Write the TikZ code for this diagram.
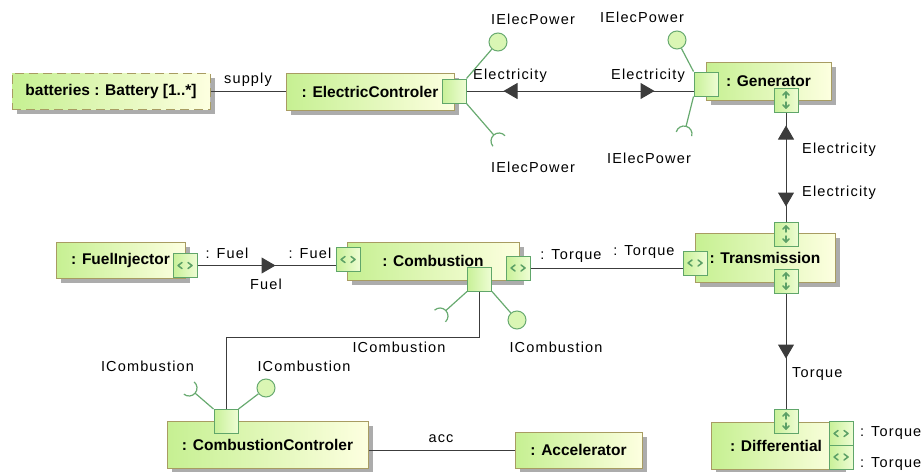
\documentclass[tikz,border=0pt]{standalone}
\usepackage{fontspec}
\setmainfont{Liberation Sans}
\newfontfamily\lblfont[LetterSpace=8]{Liberation Sans}
\usetikzlibrary{arrows.meta,positioning,calc,shadows,decorations.markings}

\definecolor{partL}{RGB}{198,240,146}
\definecolor{partR}{RGB}{253,255,224}
\definecolor{partEdge}{RGB}{168,156,98}
\definecolor{partShadow}{RGB}{172,172,172}
\definecolor{portL}{RGB}{200,241,152}
\definecolor{portR}{RGB}{238,253,212}
\definecolor{portEdge}{RGB}{96,166,106}
\definecolor{portMark}{RGB}{92,160,102}
\definecolor{ifaceGreen}{RGB}{104,170,112}
\definecolor{ballFill}{RGB}{218,246,180}
\definecolor{wireGray}{RGB}{60,60,60}

\tikzset{flowtip/.tip={Triangle[length=14pt, width=16pt]}}

\begin{document}
\begin{tikzpicture}[
    x=1pt, y=1pt,
    part/.style={
        rectangle, draw=partEdge, line width=1pt,
        left color=partL, right color=partR,
        general shadow={fill=partShadow, shadow xshift=5pt, shadow yshift=-5pt},
        align=center, inner sep=2pt,
        font=\fontsize{15.5}{18}\selectfont\bfseries
    },
    port/.style={
        rectangle, draw=portEdge, line width=1pt,
        left color=portL, right color=portR,
        minimum size=24pt, inner sep=0pt
    },
    portmark/.style={draw=portMark, line width=1.5pt, line cap=round, line join=round},
    hport/.style={port, path picture={
        \draw[portmark] ([shift={(-3,3)}]path picture bounding box.center) -- ++(-4,-3) -- ++(4,-3);
        \draw[portmark] ([shift={(3,3)}]path picture bounding box.center) -- ++(4,-3) -- ++(-4,-3);
    }},
    vport/.style={port, path picture={
        \draw[portmark] ([shift={(-3,5)}]path picture bounding box.center) -- ++(3,3) -- ++(3,-3);
        \draw[portmark] ([shift={(0,8)}]path picture bounding box.center) -- ++(0,-6);
        \draw[portmark] ([shift={(-3,-5)}]path picture bounding box.center) -- ++(3,-3) -- ++(3,3);
        \draw[portmark] ([shift={(0,-8)}]path picture bounding box.center) -- ++(0,6);
    }},
    wire/.style={draw=wireGray, line width=1pt},
    fwd/.style={postaction={decorate, decoration={markings,
        mark=at position #1 with {\arrow{flowtip}}}}},
    bwd/.style={postaction={decorate, decoration={markings,
        mark=at position #1 with {\arrowreversed{flowtip}}}}},
    iface/.style={draw=ifaceGreen, line width=1.2pt},
    ball/.style={
        circle, draw=ifaceGreen, line width=1pt, fill=ballFill,
        minimum size=18pt, inner sep=0pt
    },
    lbl/.style={font=\lblfont\fontsize{14.5}{17}\selectfont, anchor=base, inner sep=0pt},
]

\useasboundingbox (0,0) rectangle (923,-471);

% ── Parts ──
\node[part, dash pattern=on 9pt off 5pt, minimum width=198pt, minimum height=36pt]
    (bat) at (111,-91) {batteries : Battery [1..*]};
\node[part, minimum width=168pt, minimum height=37pt] (ectl) at (370,-91.5) {: ElectricControler};
\node[part, minimum width=125pt, minimum height=38pt] (gen) at (768.5,-81) {: Generator};
\node[part, minimum width=140pt, minimum height=49pt] (trans) at (765,-257.5) {: Transmission};
\node[part, minimum width=129pt, minimum height=36pt] (finj) at (120.5,-260) {: FuelInjector};
\node[part, minimum width=172pt, minimum height=38pt] (comb) at (433,-261) {: Combustion};
\node[part, minimum width=201pt, minimum height=47pt] (cctl) at (267.5,-444.5) {: CombustionControler};
\node[part, minimum width=127pt, minimum height=36pt] (accel) at (578.5,-450) {: Accelerator};
\node[part, minimum width=130pt, minimum height=47pt] (diff) at (776,-445.5) {: Differential};

% ── Ports ──
\node[port] (ecP) at (454,-91) {};
\node[port] (genP) at (706,-84) {};
\node[vport] (genB) at (786,-100) {};
\node[vport] (transT) at (786,-234) {};
\node[hport] (transL) at (695,-263) {};
\node[vport] (transB) at (786,-281) {};
\node[hport] (finjR) at (185,-265.5) {};
\node[hport] (combL) at (348,-259.5) {};
\node[hport] (combR) at (518,-268) {};
\node[port] (combB) at (479.5,-279) {};
\node[port] (cctlT) at (226,-421.5) {};
\node[vport] (diffT) at (786,-421) {};
\node[hport] (diffR1) at (841,-433.5) {};
\node[hport] (diffR2) at (841,-457) {};

% ── Connectors ──
\draw[wire] (bat.east) -- (bat.east -| ectl.west);
\node[lbl] (supplyLbl) at (248,-83) {supply};

\draw[wire, bwd=37pt, fwd=-39pt] (ecP.east) -- (ecP.east -| genP.west);
\node[lbl] (elecL) at (510,-79) {Electricity};
\node[lbl] (elecR) at (648,-79) {Electricity};

\draw[wire, bwd=13pt, fwd=-15pt] (genB.south) -- (transT.north);
\node[lbl, anchor=base west] (elecUp) at (802,-153) {Electricity};
\node[lbl, anchor=base west] (elecDn) at (802,-196) {Electricity};

\draw[wire, fwd=78pt] (finjR.east) -- (finjR.east -| combL.west);
\node[lbl] (fuelL) at (227,-258) {: Fuel};
\node[lbl] (fuelR) at (310,-258) {: Fuel};
\node[lbl] (fuelMid) at (266,-289) {Fuel};

\draw[wire] (combR.east) -- (combR.east -| transL.west);
\node[lbl] (torqL) at (571,-259) {: Torque};
\node[lbl] (torqR) at (644,-255) {: Torque};

\draw[wire, fwd=-50pt] (transB.south) -- (diffT.north);
\node[lbl, anchor=base west] (torqDn) at (792,-377) {Torque};
\node[lbl, anchor=base west] (diffLbl1) at (860,-436) {: Torque};
\node[lbl, anchor=base west] (diffLbl2) at (860,-467) {: Torque};

\draw[wire] (combB.south) -- ++(0,-46) -| (cctlT.north);

\draw[wire] (accel.west -| cctl.east) -- (accel.west);
\node[lbl] (accLbl) at (441,-442) {acc};

% ── Interfaces ──
\node[ball] (ecBall) at (498,-42) {};
\draw[iface] (ecP.north east) -- (ecBall);
\coordinate (ecSock) at (499,-141);
\draw[iface] (ecP.south east) -- ($(ecSock)+(131:8)$);
\draw[iface] ($(ecSock)+(41:8)$) arc[start angle=41, delta angle=180, radius=8];
\node[lbl] (ecTopLbl) at (533,-24) {IElecPower};
\node[lbl] (ecBotLbl) at (533,-172) {IElecPower};

\node[ball] (genBall) at (677,-40) {};
\draw[iface] (genP.north west) -- (genBall);
\coordinate (genSock) at (684,-134);
\draw[iface] (genP.south west) -- ($(genSock)+(75:8)$);
\draw[iface] ($(genSock)+(-15:8)$) arc[start angle=-15, delta angle=180, radius=8];
\node[lbl] (genTopLbl) at (642,-23) {IElecPower};
\node[lbl] (genBotLbl) at (649,-163) {IElecPower};

\node[ball] (combBall) at (517,-320) {};
\draw[iface] (combB.south east) -- (combBall);
\coordinate (combSock) at (440,-316);
\draw[iface] (combB.south west) -- ($(combSock)+(43:8)$);
\draw[iface] ($(combSock)+(-47:8)$) arc[start angle=-47, delta angle=180, radius=8];
\node[lbl] (combSockLbl) at (399,-352) {ICombustion};
\node[lbl] (combBallLbl) at (556,-352) {ICombustion};

\node[ball] (cctlBall) at (266,-388) {};
\draw[iface] (cctlT.north east) -- (cctlBall);
\coordinate (cctlSock) at (189,-388);
\draw[iface] (cctlT.north west) -- ($(cctlSock)+(320:8)$);
\draw[iface] ($(cctlSock)+(230:8)$) arc[start angle=230, delta angle=180, radius=8];
\node[lbl] (cctlSockLbl) at (147.5,-371) {ICombustion};
\node[lbl] (cctlBallLbl) at (304,-371) {ICombustion};

\end{tikzpicture}
\end{document}
